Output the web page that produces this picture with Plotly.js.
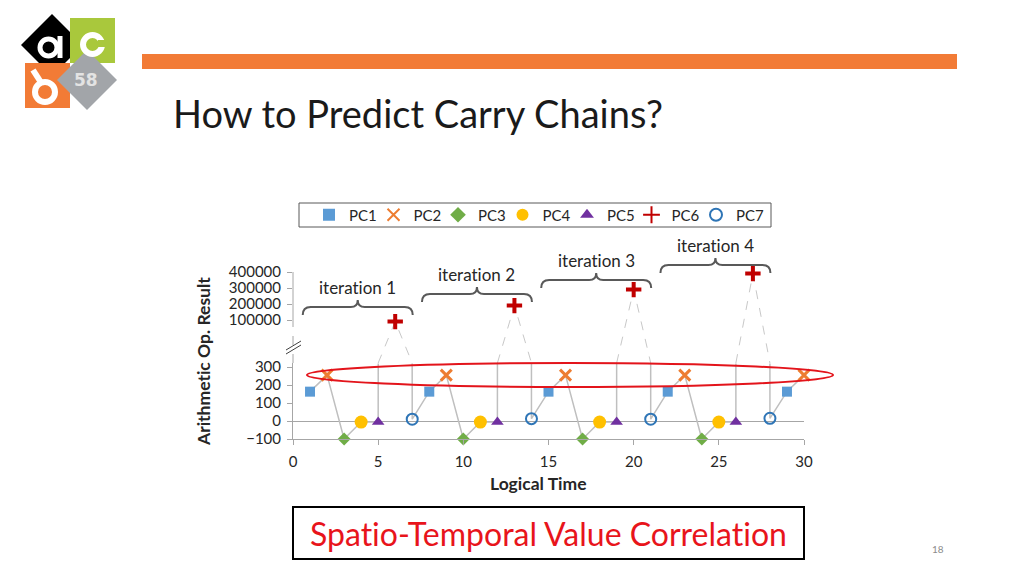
<!DOCTYPE html>
<html><head><meta charset="utf-8">
<script src="https://cdn.plot.ly/plotly-3.0.1.min.js"></script>
<style>html,body{margin:0;padding:0;background:#fff;overflow:hidden;}#chart{width:1024px;height:576px;}
text{font-variant-ligatures:none;font-feature-settings:"liga" 0,"clig" 0;}</style>
</head><body><div id="chart"></div>
<script>
// ---------- data ----------
const seriesNames = ['PC1','PC2','PC3','PC4','PC5','PC6','PC7'];
const pc1Time = [1, 8, 15, 22, 29];
const pc1Value = [163, 163, 163, 163, 163];
const pc2Time = [2, 9, 16, 23, 30];
const pc2Value = [255, 255, 255, 255, 255];
const pc3Time = [3, 10, 17, 24];
const pc3Value = [-100, -100, -100, -100];
const pc4Time = [4, 11, 18, 25];
const pc4Value = [-6, -6, -6, -6];
const pc5Time = [5, 12, 19, 26];
const pc5Value = [-6, -6, -6, -6];
const pc6Time = [6, 13, 20, 27];
const pc6Value = [90000, 190000, 290000, 390000];
const pc7Time = [7, 14, 21, 28];
const pc7Value = [10, 13, 10, 15];
const iterationLabels = ['iteration 1', 'iteration 2', 'iteration 3', 'iteration 4'];
const xTickVals = [0, 5, 10, 15, 20, 25, 30];
const yLowTickVals = [-100, 0, 100, 200, 300];
const yHighTickVals = [100000, 200000, 300000, 400000];

// ---------- geometry helpers (layout only) ----------
const W = 1024, H = 576;
const px = v => v / W;
const py = v => 1 - v / H;
const Y2_MIN = -168750, Y2_MAX = 600000;
const GRAY = '#a6a6a6';
const FONT = 'Lato, "Open Sans", sans-serif';

const allTimes = [pc1Time, pc2Time, pc3Time, pc4Time, pc5Time, pc6Time, pc7Time];
const allValues = [pc1Value, pc2Value, pc3Value, pc4Value, pc5Value, pc6Value, pc7Value];
const styles = [
  {symbol:'square', size:10, color:'#5b9bd5'},
  {symbol:'x-thin-open', size:11, color:'#ed7d31', lw:3},
  {symbol:'diamond', size:10, color:'#70ad47'},
  {symbol:'circle', size:13, color:'#ffc000'},
  {symbol:'triangle-up', size:11, color:'#7030a0'},
  {symbol:'cross-thin-open', size:11, color:'#c00000', lw:4},
  {symbol:'circle-open', size:11, color:'#2e75b6', lw:2}
];

// combined sequence line (lower panel, clipped)
const pairs = [];
allTimes.forEach((ts, s) => ts.forEach((t, i) => pairs.push([t, allValues[s][i]])));
pairs.sort((a, b) => a[0] - b[0]);
const seqLine = {
  x: pairs.map(p => p[0]), y: pairs.map(p => p[1]),
  xaxis:'x', yaxis:'y', mode:'lines', line:{color:'#bfbfbf', width:1.5},
  showlegend:false, hoverinfo:'skip'
};
// dashed continuation in upper panel
const dx = [], dy = [];
pc6Time.forEach((t, i) => {
  dx.push(pc5Time[i], t, pc7Time[i], null);
  dy.push(Y2_MIN, pc6Value[i], Y2_MIN, null);
});
const dashLine = {
  x: dx, y: dy, xaxis:'x', yaxis:'y2', mode:'lines',
  line:{color:'#c8c8c8', width:1, dash:'dash'}, showlegend:false, hoverinfo:'skip', connectgaps:false
};

const markerTraces = seriesNames.map((name, s) => {
  const st = styles[s];
  return {
    name: name, x: allTimes[s], y: allValues[s], xaxis:'x', yaxis: s === 5 ? 'y2' : 'y',
    mode:'markers', cliponaxis:false,
    marker:{symbol:st.symbol, size:st.size, color:st.color,
      line:{color:st.color, width: st.lw || 0}}
  };
});
// invisible spacer entry so the last legend label is not clipped
const legendSpacer = {x:[null], y:[null], name:' ', mode:'markers',
  marker:{color:'rgba(0,0,0,0)', size:1, line:{width:0, color:'rgba(0,0,0,0)'}}, showlegend:true, hoverinfo:'skip'};

// ---------- decorations ----------
const shapes = [];
shapes.push({type:'line', xref:'paper', yref:'y2', x0:px(293), x1:px(293), y0:yHighTickVals[0], y1:yHighTickVals[3], line:{color:GRAY, width:1}});
shapes.push({type:'line', xref:'paper', yref:'y2', x0:px(293), x1:px(293), y0:Y2_MIN, y1:yHighTickVals[0], line:{color:GRAY, width:1, dash:'dash'}});
shapes.push({type:'line', xref:'paper', yref:'paper', x0:px(286), x1:px(301), y0:py(350), y1:py(341), line:{color:'#404040', width:1}});
shapes.push({type:'line', xref:'paper', yref:'paper', x0:px(286), x1:px(301), y0:py(354), y1:py(345), line:{color:'#404040', width:1}});
shapes.push({type:'rect', xref:'paper', yref:'paper', x0:px(299), x1:px(771), y0:py(227), y1:py(203), line:{color:'#595959', width:1}});
shapes.push({type:'circle', xref:'paper', yref:'paper', x0:px(307), x1:px(833), y0:py(387), y1:py(363), line:{color:'#e3141b', width:2}});
const braceCenters = [3.8, 10.8, 17.8, 24.8];
const braceBottoms = [315, 302, 288, 273];
const bracePath = 'M -55 0 Q -55 8 -47 8 L -7 8 Q 0 8 0 15 Q 0 8 7 8 L 47 8 Q 55 8 55 0';
braceCenters.forEach((c, i) => {
  shapes.push({type:'path', xref:'x', yref:'paper', xsizemode:'pixel', ysizemode:'pixel',
    xanchor:c, yanchor:py(braceBottoms[i]), path:bracePath, line:{color:'#595959', width:2}});
});
shapes.push({type:'rect', xref:'paper', yref:'paper', x0:px(142), x1:px(957), y0:py(69), y1:py(54), fillcolor:'#f27b36', line:{width:0}});
shapes.push({type:'rect', xref:'paper', yref:'paper', x0:px(293), x1:px(804), y0:py(559), y1:py(507), line:{color:'#000', width:2}});
const poly = pts => 'M ' + pts.map(p => px(p[0]) + ' ' + py(p[1])).join(' L ') + ' Z';
shapes.push({type:'path', xref:'paper', yref:'paper', path:poly([[52,14],[83,45],[52,76],[21,45]]), fillcolor:'#000', line:{width:0}});
shapes.push({type:'rect', xref:'paper', yref:'paper', x0:px(70), x1:px(115), y0:py(63), y1:py(18), fillcolor:'#a9c83c', line:{width:0}});
shapes.push({type:'rect', xref:'paper', yref:'paper', x0:px(25), x1:px(70), y0:py(108), y1:py(63), fillcolor:'#f27b36', line:{width:0}});
shapes.push({type:'path', xref:'paper', yref:'paper', path:poly([[87,50],[117,80],[87,110],[57,80]]), fillcolor:'#a2a5a9', line:{width:0}});
shapes.push({type:'circle', xref:'paper', yref:'paper', x0:px(40), x1:px(57), y0:py(56), y1:py(39), fillcolor:'#000', line:{color:'#fff', width:5}});
shapes.push({type:'line', xref:'paper', yref:'paper', x0:px(60), x1:px(60), y0:py(36), y1:py(58), line:{color:'#fff', width:5}});
shapes.push({type:'circle', xref:'paper', yref:'paper', x0:px(83), x1:px(102), y0:py(54), y1:py(35), fillcolor:'#a9c83c', line:{color:'#fff', width:6}});
shapes.push({type:'rect', xref:'paper', yref:'paper', x0:px(98), x1:px(106), y0:py(47), y1:py(40), fillcolor:'#a9c83c', line:{width:0}});
shapes.push({type:'circle', xref:'paper', yref:'paper', x0:px(35), x1:px(55), y0:py(102), y1:py(82), fillcolor:'#f27b36', line:{color:'#fff', width:6}});
shapes.push({type:'line', xref:'paper', yref:'paper', x0:px(33), x1:px(42), y0:py(70), y1:py(84), line:{color:'#fff', width:6}});

const annotations = [];
annotations.push({xref:'paper', yref:'paper', x:px(171), y:py(113), xanchor:'left', yanchor:'middle', showarrow:false,
  text:'How to Predict Carry Chains?', font:{family:FONT, size:38, color:'#1a1a1a'}});
annotations.push({xref:'paper', yref:'paper', x:px(203), y:py(362), xanchor:'center', yanchor:'middle', showarrow:false, textangle:-90,
  text:'<b>Arithmetic Op. Result</b>', font:{family:FONT, size:17.5, color:'#262626'}});
annotations.push({xref:'paper', yref:'paper', x:px(538), y:py(483), xanchor:'center', yanchor:'middle', showarrow:false,
  text:'<b>Logical Time</b>', font:{family:FONT, size:17.5, color:'#262626'}});
braceCenters.forEach((c, i) => {
  annotations.push({xref:'x', yref:'paper', x:c, y:py(braceBottoms[i] - 28), xanchor:'center', yanchor:'middle', showarrow:false,
    text:iterationLabels[i], font:{family:FONT, size:17, color:'#262626'}});
});
annotations.push({xref:'paper', yref:'paper', x:px(548.5), y:py(533), xanchor:'center', yanchor:'middle', showarrow:false,
  text:'Spatio-Temporal Value Correlation', font:{family:FONT, size:32, color:'#e8141b'}});
annotations.push({xref:'paper', yref:'paper', x:px(938), y:py(549), xanchor:'center', yanchor:'middle', showarrow:false,
  text:'18', font:{family:FONT, size:10, color:'#8c8c8c'}});
annotations.push({xref:'paper', yref:'paper', x:px(86), y:py(80), xanchor:'center', yanchor:'middle', showarrow:false,
  text:'<b>58</b>', font:{family:'"DejaVu Sans", sans-serif', size:17, color:'#e3e3e3'}});

const tickFont = {family:FONT, size:15, color:'#262626'};
const layout = {
  width:W, height:H, margin:{l:0, r:0, t:0, b:0, autoexpand:false},
  paper_bgcolor:'#fff', plot_bgcolor:'rgba(0,0,0,0)',
  font:{family:FONT},
  showlegend:true,
  legend:{orientation:'h', x:px(309), y:py(215), xanchor:'left', yanchor:'middle',
    entrywidth:19.5, entrywidthmode:'pixels', borderwidth:0, bgcolor:'rgba(0,0,0,0)',
    font:{family:FONT, size:15, color:'#262626'}, itemsizing:'constant'},
  xaxis:{domain:[px(293), px(804)], range:[0, 30], anchor:'y', tickvals:xTickVals,
    ticks:'outside', ticklen:5, tickcolor:GRAY, showline:true, linecolor:GRAY, linewidth:1,
    showgrid:false, zeroline:false, tickfont:tickFont, ticklabelstandoff:4},
  yaxis:{domain:[py(439), py(363.4)], range:[-100, 320], anchor:'x', tickvals:yLowTickVals,
    ticks:'outside', ticklen:5, tickcolor:GRAY, showline:true, linecolor:GRAY, linewidth:1, ticklabelstandoff:3,
    showgrid:false, zeroline:true, zerolinecolor:GRAY, zerolinewidth:1, tickfont:tickFont},
  yaxis2:{domain:[py(363), py(240)], range:[Y2_MIN, Y2_MAX], anchor:'x', tickvals:yHighTickVals, tickformat:'d',
    ticks:'outside', ticklen:5, tickcolor:GRAY, showline:false, showgrid:false, zeroline:false, tickfont:tickFont, ticklabelstandoff:3},
  shapes:shapes, annotations:annotations
};

Plotly.newPlot('chart', [seqLine, dashLine].concat(markerTraces, [legendSpacer]), layout, {displayModeBar:false, staticPlot:true});
</script></body></html>
